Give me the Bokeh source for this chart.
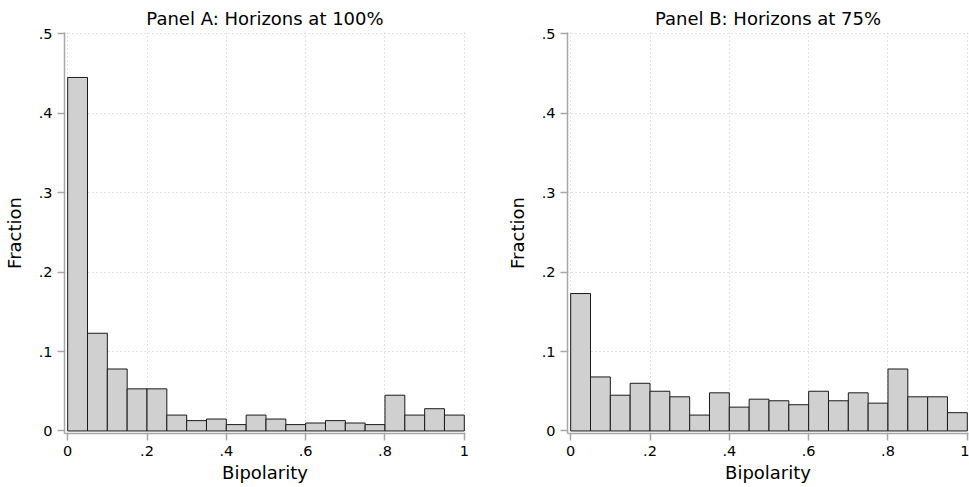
import numpy as np
from bokeh.plotting import figure
from bokeh.layouts import row
from bokeh.models import Range1d, FixedTicker
from bokeh.embed import file_html
from bokeh.resources import INLINE

# ---- data ----
bin_edges = [i / 20 for i in range(21)]
frac_100 = [0.445, 0.123, 0.078, 0.053, 0.053, 0.020, 0.013, 0.015, 0.008, 0.020,
            0.015, 0.008, 0.010, 0.013, 0.010, 0.008, 0.045, 0.020, 0.028, 0.020]
frac_75 = [0.173, 0.068, 0.045, 0.060, 0.050, 0.043, 0.020, 0.048, 0.030, 0.040,
           0.038, 0.033, 0.050, 0.038, 0.048, 0.035, 0.078, 0.043, 0.043, 0.023]
x_ticks = [0, 0.2, 0.4, 0.6, 0.8, 1.0]
x_tick_labels = ["0", ".2", ".4", ".6", ".8", "1"]
y_ticks = [0, 0.1, 0.2, 0.3, 0.4, 0.5]
y_tick_labels = ["0", ".1", ".2", ".3", ".4", ".5"]

FONT = "DejaVu Sans"
AXIS_COL = "#a8a8a8"


def panel(title, values, width, border_left, border_right):
    p = figure(width=width, height=487, output_backend="svg", toolbar_location=None,
               x_range=Range1d(-0.008, 1.003), y_range=Range1d(-0.0032, 0.5016),
               min_border_left=border_left, min_border_right=border_right,
               min_border_top=32, min_border_bottom=54, title=title)
    p.outline_line_color = None
    p.background_fill_color = "white"
    p.border_fill_color = "white"

    p.title.text = title
    p.title.align = "center"
    p.title.text_font = FONT
    p.title.text_font_size = "18px"
    p.title.text_font_style = "normal"
    p.title.text_color = "black"
    p.title.standoff = 8

    p.quad(left=bin_edges[:-1], right=bin_edges[1:], bottom=0, top=values,
           fill_color="#d0d0d0", line_color="#1a1a1a", line_width=1)

    p.xaxis.ticker = FixedTicker(ticks=x_ticks)
    p.xaxis.major_label_overrides = dict(zip(x_ticks, x_tick_labels))
    p.yaxis.ticker = FixedTicker(ticks=y_ticks)
    p.yaxis.major_label_overrides = dict(zip(y_ticks, y_tick_labels))
    p.xaxis.axis_label = "Bipolarity"
    p.yaxis.axis_label = "Fraction"

    for ax in (p.xaxis, p.yaxis):
        ax.axis_line_color = AXIS_COL
        ax.axis_line_width = 1.5
        ax.major_tick_line_color = AXIS_COL
        ax.major_tick_line_width = 1.5
        ax.major_tick_out = 7
        ax.major_tick_in = 0
        ax.minor_tick_line_color = None
        ax.major_label_text_font = FONT
        ax.major_label_text_font_size = "14.5px"
        ax.major_label_text_color = "black"
        ax.axis_label_text_font = FONT
        ax.axis_label_text_font_size = "18px"
        ax.axis_label_text_font_style = "normal"
        ax.axis_label_text_color = "black"
        ax.major_label_standoff = 5
    p.yaxis.major_label_orientation = "horizontal"
    p.yaxis.axis_label_standoff = 11
    p.xaxis.axis_label_standoff = 3

    p.xgrid.ticker = FixedTicker(ticks=x_ticks)
    p.ygrid.ticker = FixedTicker(ticks=y_ticks)
    for g in (p.xgrid, p.ygrid):
        g.grid_line_color = "#c4c4c4"
        g.grid_line_dash = "1 3"
        g.grid_line_width = 1
    return p


pa = panel("Panel A: Horizons at 100%", frac_100, 484, 64, 19)
pb = panel("Panel B: Horizons at 75%", frac_75, 485, 83, 1)

layout = row(pa, pb, spacing=0)
open("out.html", "w").write(file_html(layout, INLINE))
